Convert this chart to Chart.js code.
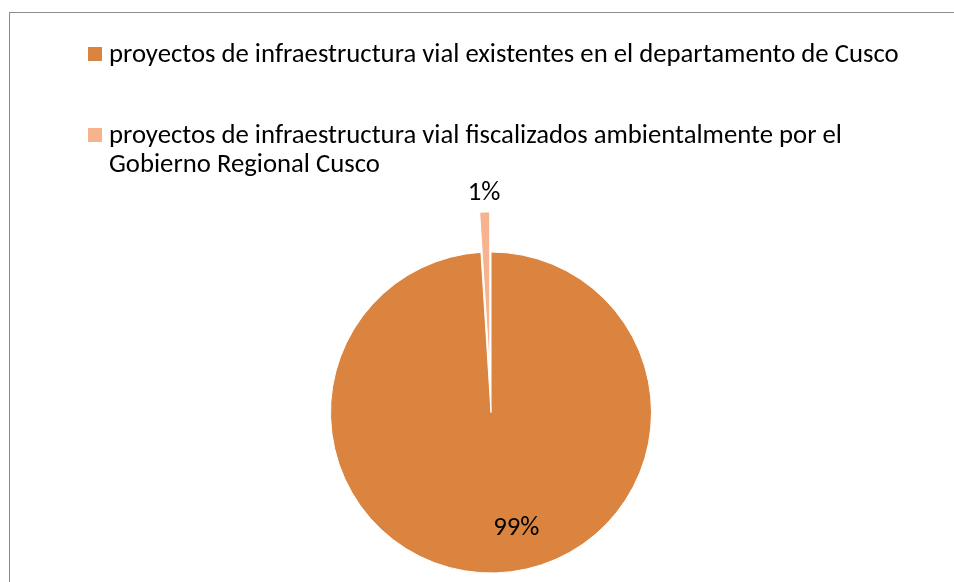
<!DOCTYPE html>
<html><head><meta charset="utf-8">
<script src="https://cdn.jsdelivr.net/npm/chart.js@4/dist/chart.umd.min.js"></script>
<style>
html,body{margin:0;padding:0;background:#fff;overflow:hidden;width:954px;height:582px;}
#frame{position:absolute;left:9px;top:12px;width:1000px;height:700px;border-left:1px solid #8c8c8c;border-top:1px solid #8c8c8c;box-sizing:border-box;background:#fff;}
#c{position:absolute;left:0;top:0;}
</style></head><body>
<div id="frame"></div>
<canvas id="c" width="954" height="600"></canvas>
<script>
// ---- data ----
const categories = [
  "proyectos de infraestructura vial existentes en el departamento de Cusco",
  "proyectos de infraestructura vial fiscalizados ambientalmente por el Gobierno Regional Cusco"
];
const sliceValues = [99, 1];
const percentLabels = ["99%", "1%"];
// ---- style ----
const sliceColors = ["#DB843F", "#F7B28E"];
const sliceOffsets = [0, 40];
const FONT_FAMILY = "Carlito, Lato, 'Open Sans', sans-serif";

// Excel-style explosion: translate the whole wedge by its offset (no narrowing)
const baseArcDraw = Chart.ArcElement.prototype.draw;
Chart.ArcElement.prototype.draw = function (ctx) {
  const o = this.options.offset || 0;
  if (!o) return baseArcDraw.call(this, ctx);
  const half = (this.startAngle + this.endAngle) / 2;
  ctx.save();
  ctx.translate(Math.cos(half) * o, Math.sin(half) * o);
  const saved = this.options;
  this.options = Object.assign({}, saved, { offset: 0 });
  baseArcDraw.call(this, ctx);
  this.options = saved;
  ctx.restore();
};

// fit font size so the first legend line spans the same width as the reference
const mctx = document.createElement('canvas').getContext('2d');
mctx.font = "100px " + FONT_FAMILY;
const FONT_SIZE = 100 * 790 / mctx.measureText(categories[0]).width;

const legendPlugin = {
  id: 'wrapLegend',
  afterDraw(chart, args, o) {
    const ctx = chart.ctx;
    ctx.save();
    ctx.font = FONT_SIZE + "px " + FONT_FAMILY;
    ctx.textBaseline = 'alphabetic';
    ctx.textAlign = 'left';
    let base = o.firstBaseline;
    chart.data.labels.forEach((label, i) => {
      const words = label.split(' ');
      const lines = [];
      let cur = '';
      for (const w of words) {
        const t = cur ? cur + ' ' + w : w;
        if (cur && ctx.measureText(t).width > o.maxWidth) { lines.push(cur); cur = w; }
        else cur = t;
      }
      lines.push(cur);
      ctx.fillStyle = chart.data.datasets[0].backgroundColor[i];
      ctx.fillRect(o.boxX, base - o.boxRise, o.boxSize, o.boxSize);
      ctx.fillStyle = o.color;
      lines.forEach((ln, k) => ctx.fillText(ln, o.textX, base + k * o.lineHeight));
      base += o.itemGap;
    });
    ctx.restore();
  }
};

const labelPlugin = {
  id: 'sliceLabels',
  afterDatasetsDraw(chart, args, o) {
    const ctx = chart.ctx;
    const meta = chart.getDatasetMeta(0);
    ctx.save();
    ctx.font = FONT_SIZE + "px " + FONT_FAMILY;
    ctx.fillStyle = o.color;
    ctx.textAlign = 'center';
    ctx.textBaseline = 'alphabetic';
    const capHalf = FONT_SIZE * 0.31;
    meta.data.forEach((arc, i) => {
      const p = arc.getProps(['x', 'y', 'startAngle', 'endAngle', 'outerRadius'], true);
      const mid = (p.startAngle + p.endAngle) / 2;
      const off = sliceOffsets[i];
      let a, d;
      if (off > 0) { a = mid; d = p.outerRadius + off + o.outsideGap; }
      else { a = mid + o.insideAngleShift * Math.PI / 180; d = p.outerRadius * o.insideRadius; }
      const cx = p.x + Math.cos(a) * d;
      const cy = p.y + Math.sin(a) * d;
      ctx.fillText(percentLabels[i], cx, cy + capHalf);
    });
    ctx.restore();
  }
};

new Chart(document.getElementById('c'), {
  type: 'pie',
  data: {
    labels: categories,
    datasets: [{
      data: sliceValues,
      backgroundColor: sliceColors,
      borderColor: '#ffffff',
      borderWidth: 1,
      hoverBorderWidth: 1,
      offset: sliceOffsets,
      hoverOffset: 0
    }]
  },
  options: {
    responsive: false,
    animation: false,
    events: [],
    layout: { padding: { left: 310, right: 282, top: 231, bottom: 6 } },
    plugins: {
      legend: { display: false },
      tooltip: { enabled: false },
      wrapLegend: { firstBaseline: 62, itemGap: 81, lineHeight: 28.5, boxX: 88, boxRise: 15, boxSize: 14, textX: 109, maxWidth: 805, color: '#000000' },
      sliceLabels: { color: '#000000', outsideGap: 20, insideAngleShift: -10.7, insideRadius: 0.728 }
    }
  },
  plugins: [legendPlugin, labelPlugin]
});
</script>
</body></html>
